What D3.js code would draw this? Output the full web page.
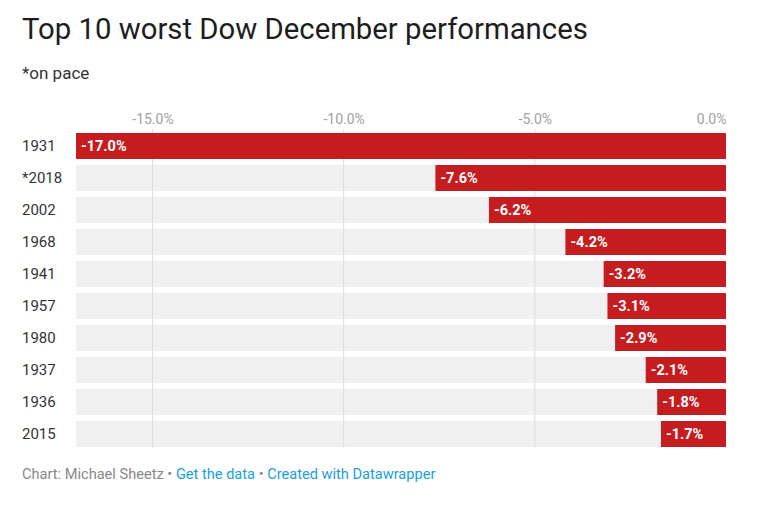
<!DOCTYPE html>
<html><head><meta charset="utf-8">
<script src="https://cdn.jsdelivr.net/npm/d3@7"></script>
<style>body{margin:0;background:#fff;font-family:Roboto,sans-serif;}</style>
</head><body>
<svg id="c" width="768" height="508"></svg>
<script>
const years = ["1931","*2018","2002","1968","1941","1957","1980","1937","1936","2015"];
const values = [-17.0,-7.6,-6.2,-4.2,-3.2,-3.1,-2.9,-2.1,-1.8,-1.7];
const ticks = [-15,-10,-5,0];

const fmt = d => d3.format(".1f")(d).replace("\u2212","-") + "%";
const svg = d3.select("#c");
svg.append("text").attr("x",22).attr("y",39).attr("font-size",29.3).attr("fill","#1d1d1d")
  .attr("font-weight",400).text("Top 10 worst Dow December performances");
svg.append("text").attr("x",22).attr("y",79).attr("font-size",17).attr("fill","#333").text("*on pace");

const x = d3.scaleLinear().domain([-17,0]).range([76,726]);
const y = d3.scaleBand().domain(years).range([133,447]).paddingInner(0.1875).paddingOuter(0);

const g = svg.append("g");
g.selectAll("rect.bg").data(years).join("rect").attr("class","bg")
  .attr("x",x(-17)).attr("width",x(0)-x(-17)).attr("y",d=>y(d)).attr("height",y.bandwidth()).attr("fill","#f0f0f0");

g.selectAll("line.grid").data(ticks.slice(0,3)).join("line").attr("class","grid")
  .attr("x1",d=>x(d)).attr("x2",d=>x(d)).attr("y1",129).attr("y2",y(years[9])+y.bandwidth())
  .attr("stroke","#dcdcdc").attr("stroke-width",1);

const axis = d3.axisTop(x).tickValues(ticks).tickSize(0).tickFormat(fmt);
const ax = svg.append("g").attr("transform","translate(0,127)").call(axis);
ax.select(".domain").remove();
ax.selectAll("text").attr("font-size",14).attr("fill","#a0a0a0").attr("font-family","Roboto");
ax.selectAll(".tick").filter(d=>d===0).select("text").attr("text-anchor","end").attr("dx",0);

g.selectAll("rect.bar").data(values).join("rect").attr("class","bar")
  .attr("x",d=>x(d)).attr("width",d=>x(0)-x(d)).attr("y",(d,i)=>y(years[i])).attr("height",y.bandwidth())
  .attr("fill","#c41c1f");

g.selectAll("text.val").data(values).join("text").attr("class","val")
  .attr("x",d=>x(d)+5).attr("y",(d,i)=>y(years[i])+y.bandwidth()/2).attr("dy","0.36em")
  .attr("fill","#fff").attr("font-weight",700).attr("font-size",14.5)
  .text(fmt);

g.selectAll("text.lab").data(years).join("text").attr("class","lab")
  .attr("x",22).attr("y",d=>y(d)+y.bandwidth()/2).attr("dy","0.36em")
  .attr("fill","#333").attr("font-size",15).text(d=>d);

const f = svg.append("text").attr("x",22).attr("y",479).attr("font-size",14.6);
f.append("tspan").attr("fill","#888").text("Chart: Michael Sheetz • ");
f.append("tspan").attr("fill","#1a9fd8").text("Get the data");
f.append("tspan").attr("fill","#888").text(" • ");
f.append("tspan").attr("fill","#1a9fd8").text("Created with Datawrapper");
</script>
</body></html>
